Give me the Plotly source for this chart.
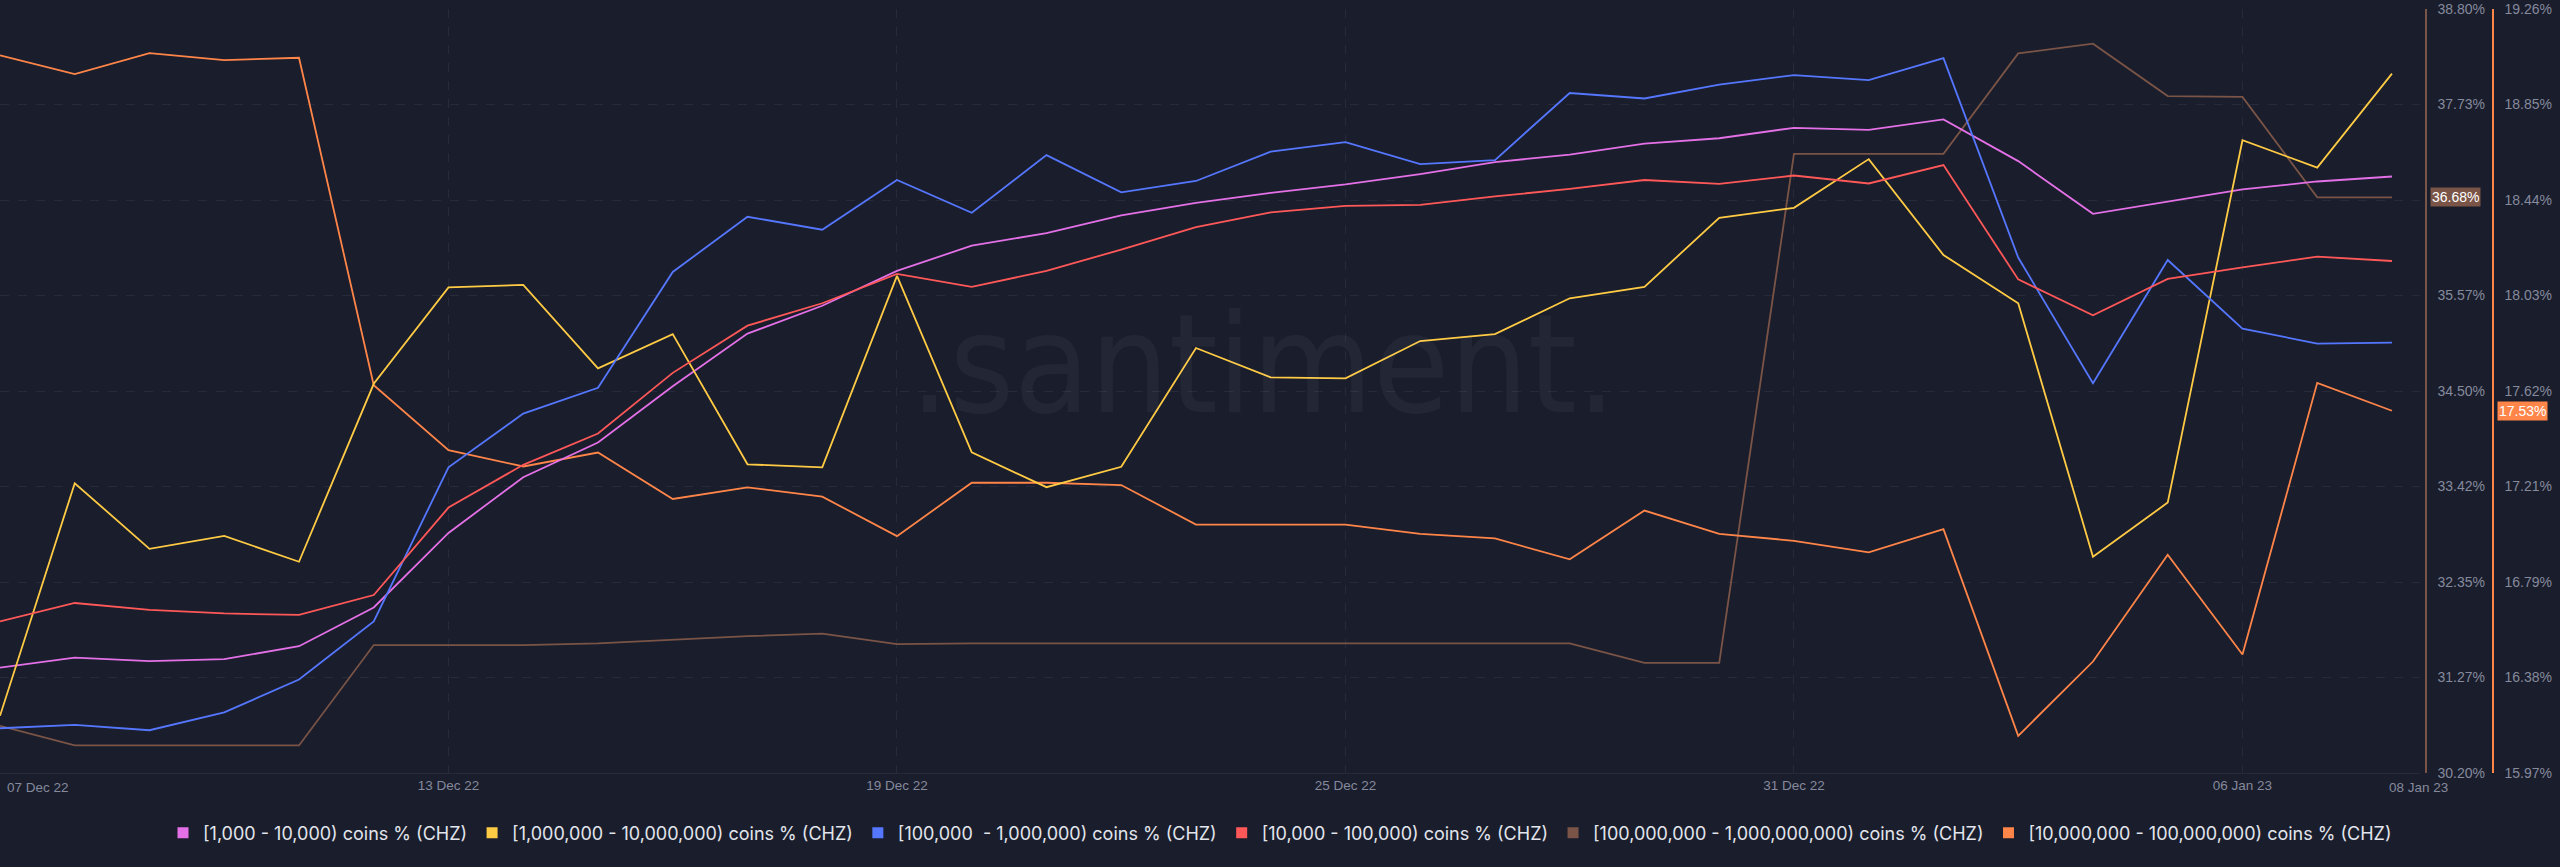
import pandas as pd
import plotly.graph_objects as go

dates = pd.date_range("2022-12-07", "2023-01-08", freq="D")

# [1,000 - 10,000) coins % (CHZ)
pink_vals = [0.657, 0.677, 0.670, 0.674, 0.700, 0.778, 0.928, 1.040, 1.110, 1.223, 1.329,
             1.385, 1.455, 1.506, 1.531, 1.567, 1.592, 1.612, 1.629, 1.650, 1.674, 1.689,
             1.711, 1.722, 1.743, 1.739, 1.760, 1.676, 1.570, 1.595, 1.619, 1.635, 1.645]
# [1,000,000 - 10,000,000) coins % (CHZ)
yellow_vals = [13.120, 14.056, 13.792, 13.844, 13.740, 14.456, 14.844, 14.854, 14.518, 14.656,
               14.132, 14.120, 14.890, 14.180, 14.040, 14.122, 14.600, 14.482, 14.478, 14.628,
               14.656, 14.800, 14.846, 15.124, 15.164, 15.360, 14.974, 14.780, 13.760, 13.978,
               15.436, 15.326, 15.704]
# [100,000 - 1,000,000) coins % (CHZ)
blue_vals = [6.070, 6.084, 6.062, 6.134, 6.266, 6.500, 7.120, 7.336, 7.440, 7.906, 8.128,
             8.076, 8.276, 8.144, 8.376, 8.226, 8.272, 8.390, 8.428, 8.340, 8.356, 8.626,
             8.604, 8.660, 8.698, 8.678, 8.766, 7.964, 7.458, 7.954, 7.678, 7.618, 7.622]
# [10,000 - 100,000) coins % (CHZ)
red_vals = [2.750, 2.787, 2.773, 2.766, 2.763, 2.803, 2.979, 3.065, 3.128, 3.250, 3.345,
            3.390, 3.449, 3.423, 3.455, 3.498, 3.543, 3.573, 3.586, 3.588, 3.605, 3.620,
            3.638, 3.630, 3.647, 3.631, 3.668, 3.438, 3.366, 3.439, 3.462, 3.484, 3.475]
# [100,000,000 - 1,000,000,000) coins % (CHZ)
brown_vals = [30.73, 30.51, 30.51, 30.51, 30.51, 31.64, 31.64, 31.64, 31.66, 31.70, 31.74,
              31.77, 31.65, 31.66, 31.66, 31.66, 31.66, 31.66, 31.66, 31.66, 31.66, 31.66,
              31.44, 31.44, 37.17, 37.17, 37.17, 38.30, 38.41, 37.82, 37.81, 36.68, 36.68]
# [10,000,000 - 100,000,000) coins % (CHZ)
orange_vals = [19.06, 18.98, 19.07, 19.04, 19.05, 17.64, 17.36, 17.29, 17.35, 17.15, 17.20,
               17.16, 16.99, 17.22, 17.22, 17.21, 17.04, 17.04, 17.04, 17.00, 16.98, 16.89,
               17.10, 17.00, 16.97, 16.92, 17.02, 16.13, 16.45, 16.91, 16.48, 17.65, 17.53]

series_names = [
    "[1,000 - 10,000) coins % (CHZ)",
    "[1,000,000 - 10,000,000) coins % (CHZ)",
    "[100,000  - 1,000,000) coins % (CHZ)",
    "[10,000 - 100,000) coins % (CHZ)",
    "[100,000,000 - 1,000,000,000) coins % (CHZ)",
    "[10,000,000 - 100,000,000) coins % (CHZ)",
]
colors = ["#e370e6", "#ffcb45", "#5577ff", "#ff5858", "#7a5446", "#ff8549"]

brown_ticks = [30.20, 31.275, 32.35, 33.425, 34.50, 35.575, 36.65, 37.725, 38.80]
brown_text = ["30.20%", "31.27%", "32.35%", "33.42%", "34.50%", "35.57%", "", "37.73%", "38.80%"]
orange_ticks = [15.97, 16.38125, 16.7925, 17.20375, 17.615, 18.02625, 18.4375, 18.84875, 19.26]
orange_text = ["15.97%", "16.38%", "16.79%", "17.21%", "17.62%", "18.03%", "18.44%", "18.85%", "19.26%"]

x_tick_dates = ["2022-12-13", "2022-12-19", "2022-12-25", "2022-12-31", "2023-01-06"]
x_tick_text = ["13 Dec 22", "19 Dec 22", "25 Dec 22", "31 Dec 22", "06 Jan 23"]

BG = "#1a1d2c"
GRID = "#262a3b"
AXIS_TXT = "#858a9c"

fig = go.Figure()

assign = [
    (pink_vals, "y3"),
    (yellow_vals, "y4"),
    (blue_vals, "y5"),
    (red_vals, "y6"),
    (brown_vals, "y"),
    (orange_vals, "y2"),
]
for (vals, ax), name, col in zip(assign, series_names, colors):
    fig.add_trace(go.Scatter(x=dates, y=vals, mode="lines", name=name, yaxis=ax,
                             line=dict(color=col, width=1.8), showlegend=False,
                             hoverinfo="skip"))

for name, col in zip(series_names, colors):
    fig.add_trace(go.Scatter(x=[None], y=[None], mode="markers", name=name,
                             marker=dict(symbol="square", size=11, color=col),
                             showlegend=True))

X_DOMAIN_END = 2420 / 2560

fig.update_layout(
    width=2560, height=867,
    paper_bgcolor=BG, plot_bgcolor=BG,
    margin=dict(l=0, r=0, t=9, b=94),
    font=dict(family="Liberation Sans, Arial, sans-serif", color=AXIS_TXT, size=14),
    xaxis=dict(
        type="date", domain=[0, X_DOMAIN_END],
        range=["2022-12-07 00:00", "2023-01-08 09:00"],
        tickvals=x_tick_dates, ticktext=x_tick_text,
        showgrid=True, gridcolor=GRID, griddash="dash", gridwidth=1,
        showline=True, linecolor=GRID, linewidth=1,
        ticks="", tickfont=dict(size=13.5, color=AXIS_TXT), zeroline=False,
    ),
    yaxis=dict(
        range=[30.20, 38.80], side="right", anchor="free", position=2426 / 2560,
        tickvals=brown_ticks, ticktext=brown_text,
        showgrid=True, gridcolor=GRID, griddash="dash", gridwidth=1,
        showline=True, linecolor="#7a5446", linewidth=1.5,
        ticks="", ticklabelstandoff=8, zeroline=False,
        tickfont=dict(size=14, color=AXIS_TXT),
    ),
    yaxis2=dict(
        range=[15.97, 19.26], side="right", anchor="free", position=2493 / 2560,
        overlaying="y", tickvals=orange_ticks, ticktext=orange_text,
        showgrid=False, showline=True, linecolor="#ff8549", linewidth=1.5,
        ticks="", ticklabelstandoff=8, zeroline=False,
        tickfont=dict(size=14, color=AXIS_TXT),
    ),
    yaxis3=dict(range=[0.445, 1.982], overlaying="y", visible=False),
    yaxis4=dict(range=[12.89, 15.964], overlaying="y", visible=False),
    yaxis5=dict(range=[5.89, 8.964], overlaying="y", visible=False),
    yaxis6=dict(range=[2.445, 3.982], overlaying="y", visible=False),
    legend=dict(
        orientation="h", x=0.5, xanchor="center", y=-60 / 764, yanchor="middle",
        font=dict(family="Inter, Lato, sans-serif", size=18, color="#e2e5ec"),
        bgcolor="rgba(0,0,0,0)", itemwidth=30,
    ),
    hovermode=False,
)

annotations = [
    dict(text=".santiment.", x=1263 / 2560, y=0.535, xref="paper", yref="paper",
         xanchor="center", yanchor="middle", showarrow=False,
         font=dict(family="DejaVu Sans Condensed, Open Sans, sans-serif",
                   size=138, color="rgba(255,255,255,0.045)")),
    dict(text="07 Dec 22", x=dates[0], y=0, xref="x", yref="paper", xanchor="left",
         yanchor="top", xshift=5, yshift=-5, showarrow=False,
         font=dict(size=13.5, color=AXIS_TXT)),
    dict(text="08 Jan 23", x=dates[-1], y=0, xref="x", yref="paper", xanchor="center",
         yanchor="top", xshift=27, yshift=-5, showarrow=False,
         font=dict(size=13.5, color=AXIS_TXT)),
    dict(text=f"{brown_vals[-1]:.2f}%", x=2426 / 2560, y=brown_vals[-1], xref="paper", yref="y",
         xanchor="left", yanchor="middle", xshift=4, showarrow=False,
         bgcolor="#7a5446", borderpad=1, font=dict(size=14, color="#ffffff")),
    dict(text=f"{orange_vals[-1]:.2f}%", x=2493 / 2560, y=orange_vals[-1], xref="paper", yref="y2",
         xanchor="left", yanchor="middle", xshift=4, showarrow=False,
         bgcolor="#ff8549", borderpad=1, font=dict(size=14, color="#ffffff")),
]
fig.update_layout(annotations=annotations)

fig.write_html("out.html")
